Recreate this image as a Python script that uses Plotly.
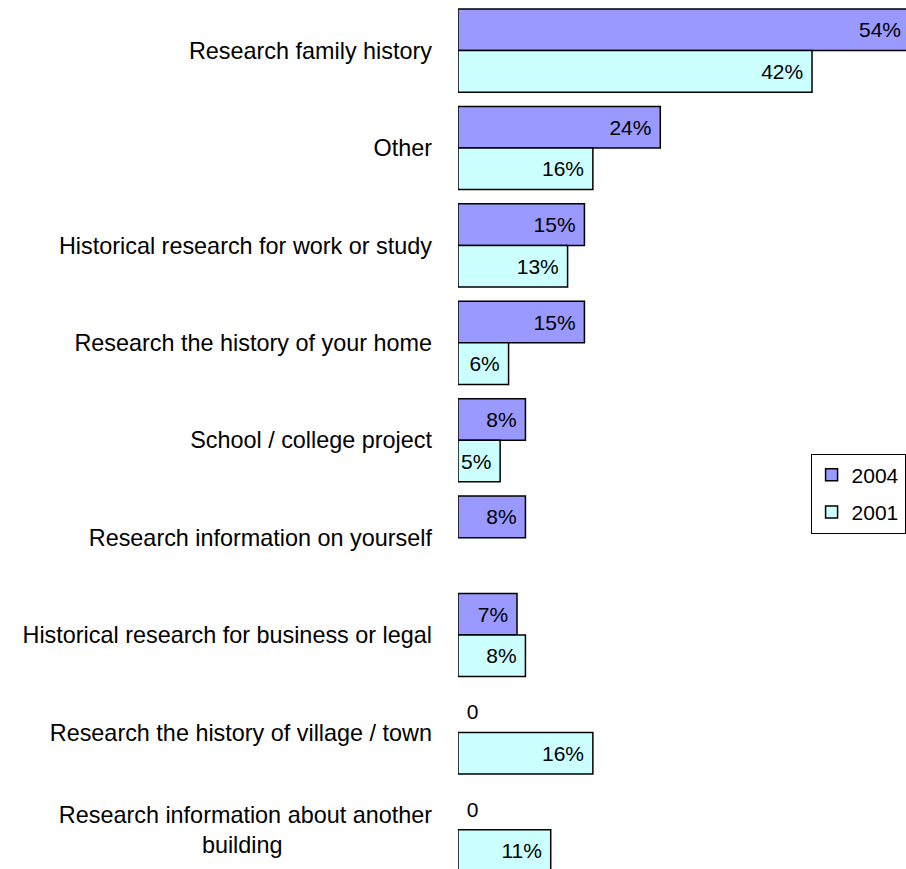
import plotly.graph_objects as go

categories = [
    "Research family history",
    "Other",
    "Historical research for work or study",
    "Research the history of your home",
    "School / college project",
    "Research information on yourself",
    "Historical research for business or legal",
    "Research the history of village / town",
    "Research information about another<br>building",
]
tick_labels = [
    "Research family history",
    "Other",
    "Historical research for work or study",
    "Research the history of your home",
    "School / college project",
    "Research information on yourself",
    "Historical research for business or legal",
    "Research the history of village / town",
    "Research information about another<br>building" + "\u00a0" * 23,
]
series_names = ["2004", "2001"]
values_2004 = [54, 24, 15, 15, 8, 8, 7, 0, 0]
values_2001 = [42, 16, 13, 6, 5, None, 8, 16, 11]
colors = {"2004": "#9999FF", "2001": "#CCFFFF"}

X_MAX = 53.15
BARGAP = 0.146

FAMILY = "Liberation Sans, Arial, sans-serif"
LABEL_FONT = dict(family=FAMILY, size=23.4, color="black")
VALUE_FONT = dict(family=FAMILY, size=21, color="black")


def text_for(vals):
    out = []
    for v in vals:
        if v is None:
            out.append("")
        elif v == 0:
            out.append("\u00a00")
        elif v > X_MAX:
            out.append("")  # drawn as annotation at the visible edge
        else:
            out.append(f"{v}%\u00a0")
    return out


def pos_for(vals):
    return ["outside" if v == 0 else "inside" for v in vals]


def lw_for(vals):
    return [0 if (v is None or v == 0) else 1.5 for v in vals]


fig = go.Figure()
annotations = []
n_series = len(series_names)
slot = (1 - BARGAP) / n_series
for s, (name, vals) in enumerate(zip(series_names, [values_2004, values_2001])):
    fig.add_trace(go.Bar(
        name=name,
        y=categories,
        x=vals,
        orientation="h",
        legendgroup=name,
        marker=dict(color=colors[name], line=dict(color="black", width=lw_for(vals))),
        text=text_for(vals),
        textposition=pos_for(vals),
        insidetextanchor="end",
        textfont=VALUE_FONT,
        constraintext="none",
        hoverinfo="skip",
    ))
    for i, v in enumerate(vals):
        if v is not None and v > X_MAX:
            annotations.append(dict(
                x=X_MAX, xref="x",
                y=i - (1 - BARGAP) / 2 + slot * (s + 0.5), yref="y",
                text=f"{v}%", showarrow=False,
                xanchor="right", yanchor="middle", xshift=-3,
                font=VALUE_FONT,
            ))

fig.update_layout(
    width=906,
    height=869,
    margin=dict(l=458, r=0, t=0, b=0, autoexpand=False),
    paper_bgcolor="white",
    plot_bgcolor="white",
    barmode="group",
    bargap=BARGAP,
    bargroupgap=0,
    showlegend=True,
    annotations=annotations,
    legend=dict(
        x=0.787, y=0.478, xanchor="left", yanchor="top",
        bordercolor="black", borderwidth=1, bgcolor="white",
        font=dict(family=FAMILY, size=21, color="black"),
        traceorder="grouped", tracegroupgap=7,
    ),
    xaxis=dict(range=[0, X_MAX], visible=False, showgrid=False, zeroline=False),
    yaxis=dict(
        type="category",
        categoryorder="array",
        categoryarray=categories,
        tickvals=categories,
        ticktext=tick_labels,
        range=[8.402, -0.5195],
        showgrid=False, zeroline=False, showline=False, ticks="",
        tickfont=LABEL_FONT,
        ticklabelstandoff=25,
    ),
)

fig.write_html("out.html")
